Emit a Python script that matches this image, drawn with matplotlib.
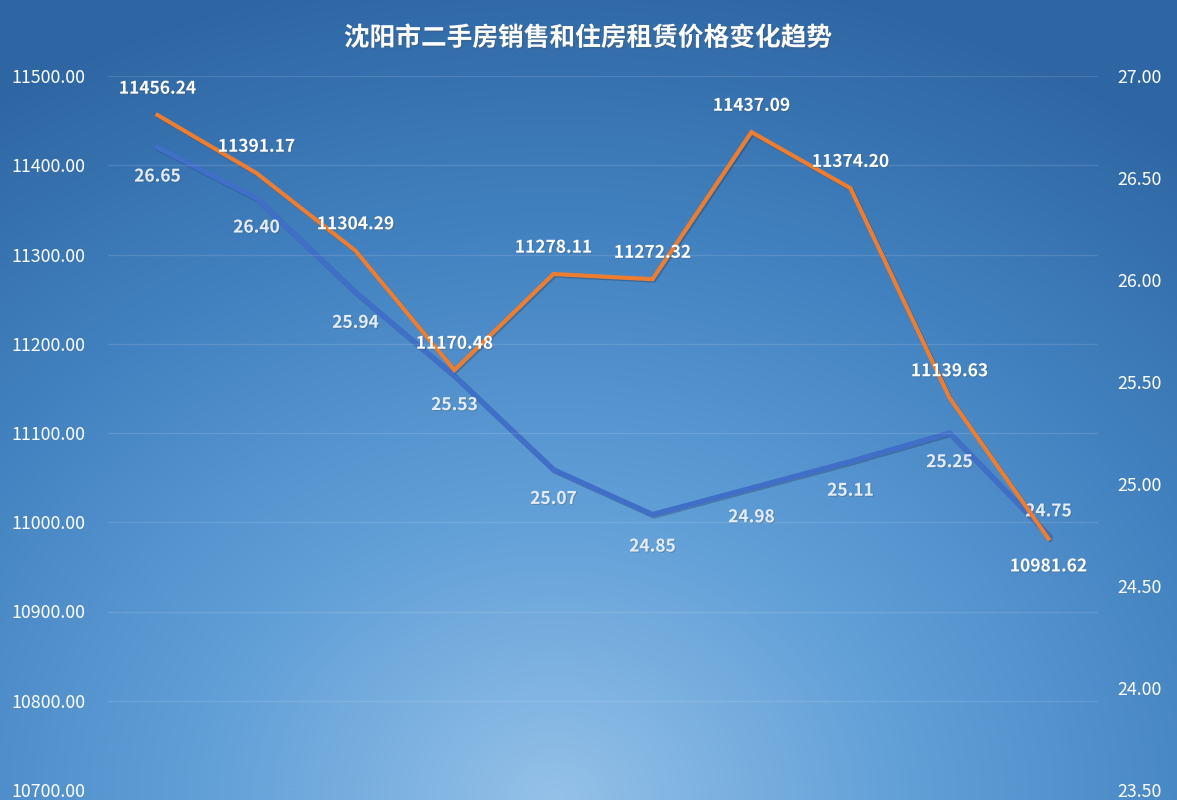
import numpy as np
import matplotlib.pyplot as plt
import matplotlib.patheffects as pe
from matplotlib.colors import LinearSegmentedColormap

plt.rcParams['font.family'] = ['Noto Sans CJK SC', 'DejaVu Sans']

title = "沈阳市二手房销售和住房租赁价格变化趋势"
sale_price = [11456.24, 11391.17, 11304.29, 11170.48, 11278.11,
              11272.32, 11437.09, 11374.20, 11139.63, 10981.62]
rent_price = [26.65, 26.40, 25.94, 25.53, 25.07,
              24.85, 24.98, 25.11, 25.25, 24.75]
left_ticks = [10700, 10800, 10900, 11000, 11100, 11200, 11300, 11400, 11500]
right_ticks = [23.5, 24.0, 24.5, 25.0, 25.5, 26.0, 26.5, 27.0]

# label offsets (points): positive = above
sale_dy = [19, 19, 19, 19, 19, 19, 19, 19, 19, -20]
rent_dy = [-21, -21, -22, -21, -21, -23, -21, -21, -21, 17]

W, H = 1177, 800
fig = plt.figure(figsize=(W / 100, H / 100), dpi=100)

# radial gradient background, light at bottom centre
bg = fig.add_axes([0, 0, 1, 1], zorder=0)
yy, xx = np.mgrid[0:H, 0:W]
d = np.sqrt(((xx - W * 0.47) / W * 1.2) ** 2 + ((yy - H * 1.0) / H) ** 2)
d = np.clip(d / 1.05, 0, 1)
cmap = LinearSegmentedColormap.from_list(
    "bg", ["#94c1e8", "#62a0d8", "#4383c1", "#2e66a3"], N=256)
bg.imshow(d, cmap=cmap, aspect="auto", extent=[0, 1, 0, 1], origin="upper")
bg.axis("off")

ax = fig.add_axes([108 / W, 10 / H, 990 / W, 714 / H], zorder=2)
ax.patch.set_visible(False)
ax2 = ax.twinx()
ax2.patch.set_visible(False)

x = np.arange(len(sale_price))
shadow = [pe.SimpleLineShadow(offset=(1, -1), alpha=0.2), pe.Normal()]
ax2.plot(x, rent_price, color="#3f6fc7", lw=3.8, solid_joinstyle="miter",
         path_effects=shadow, zorder=3)
ax.plot(x, sale_price, color="#ed7d31", lw=3.0, solid_joinstyle="miter",
        path_effects=shadow, zorder=4)
ax.set_zorder(2)
ax2.set_zorder(1)

txt_shadow = [pe.SimplePatchShadow(offset=(0.8, -0.8), alpha=0.25), pe.Normal()]
for i, v in enumerate(sale_price):
    ax.annotate(f"{v:.2f}", (x[i], v), xytext=(0, sale_dy[i]),
                textcoords="offset points", ha="center", va="center",
                color="white", fontsize=12.5, fontweight="bold",
                path_effects=txt_shadow, zorder=6)
for i, v in enumerate(rent_price):
    ax2.annotate(f"{v:.2f}", (x[i], v), xytext=(0, rent_dy[i]),
                 textcoords="offset points", ha="center", va="center",
                 color="#e3ecf8", fontsize=12.5, fontweight="bold",
                 path_effects=txt_shadow, zorder=6,
                 annotation_clip=False)

ax.set_xlim(-0.5, len(sale_price) - 0.5)
ax.set_ylim(10700, 11500)
ax2.set_ylim(23.5, 27.0)
ax.set_yticks(left_ticks)
ax.set_yticklabels([f"{t:.2f}" for t in left_ticks])
ax2.set_yticks(right_ticks)
ax2.set_yticklabels([f"{t:.2f}" for t in right_ticks])
ax.set_xticks([])
ax.grid(axis="y", color="white", alpha=0.12, lw=1)
ax.tick_params(axis="y", length=0, pad=16, labelsize=12.8, labelcolor="white")
ax2.tick_params(axis="y", length=0, pad=14, labelsize=12.8, labelcolor="white")
for a in (ax, ax2):
    for s in a.spines.values():
        s.set_visible(False)

fig.text(0.5, 1 - 38 / H, title, ha="center", va="center", color="white",
         fontsize=18.5, fontweight="bold",
         path_effects=[pe.SimplePatchShadow(offset=(1, -1), alpha=0.3), pe.Normal()])

fig.savefig("out.png", dpi=100)
